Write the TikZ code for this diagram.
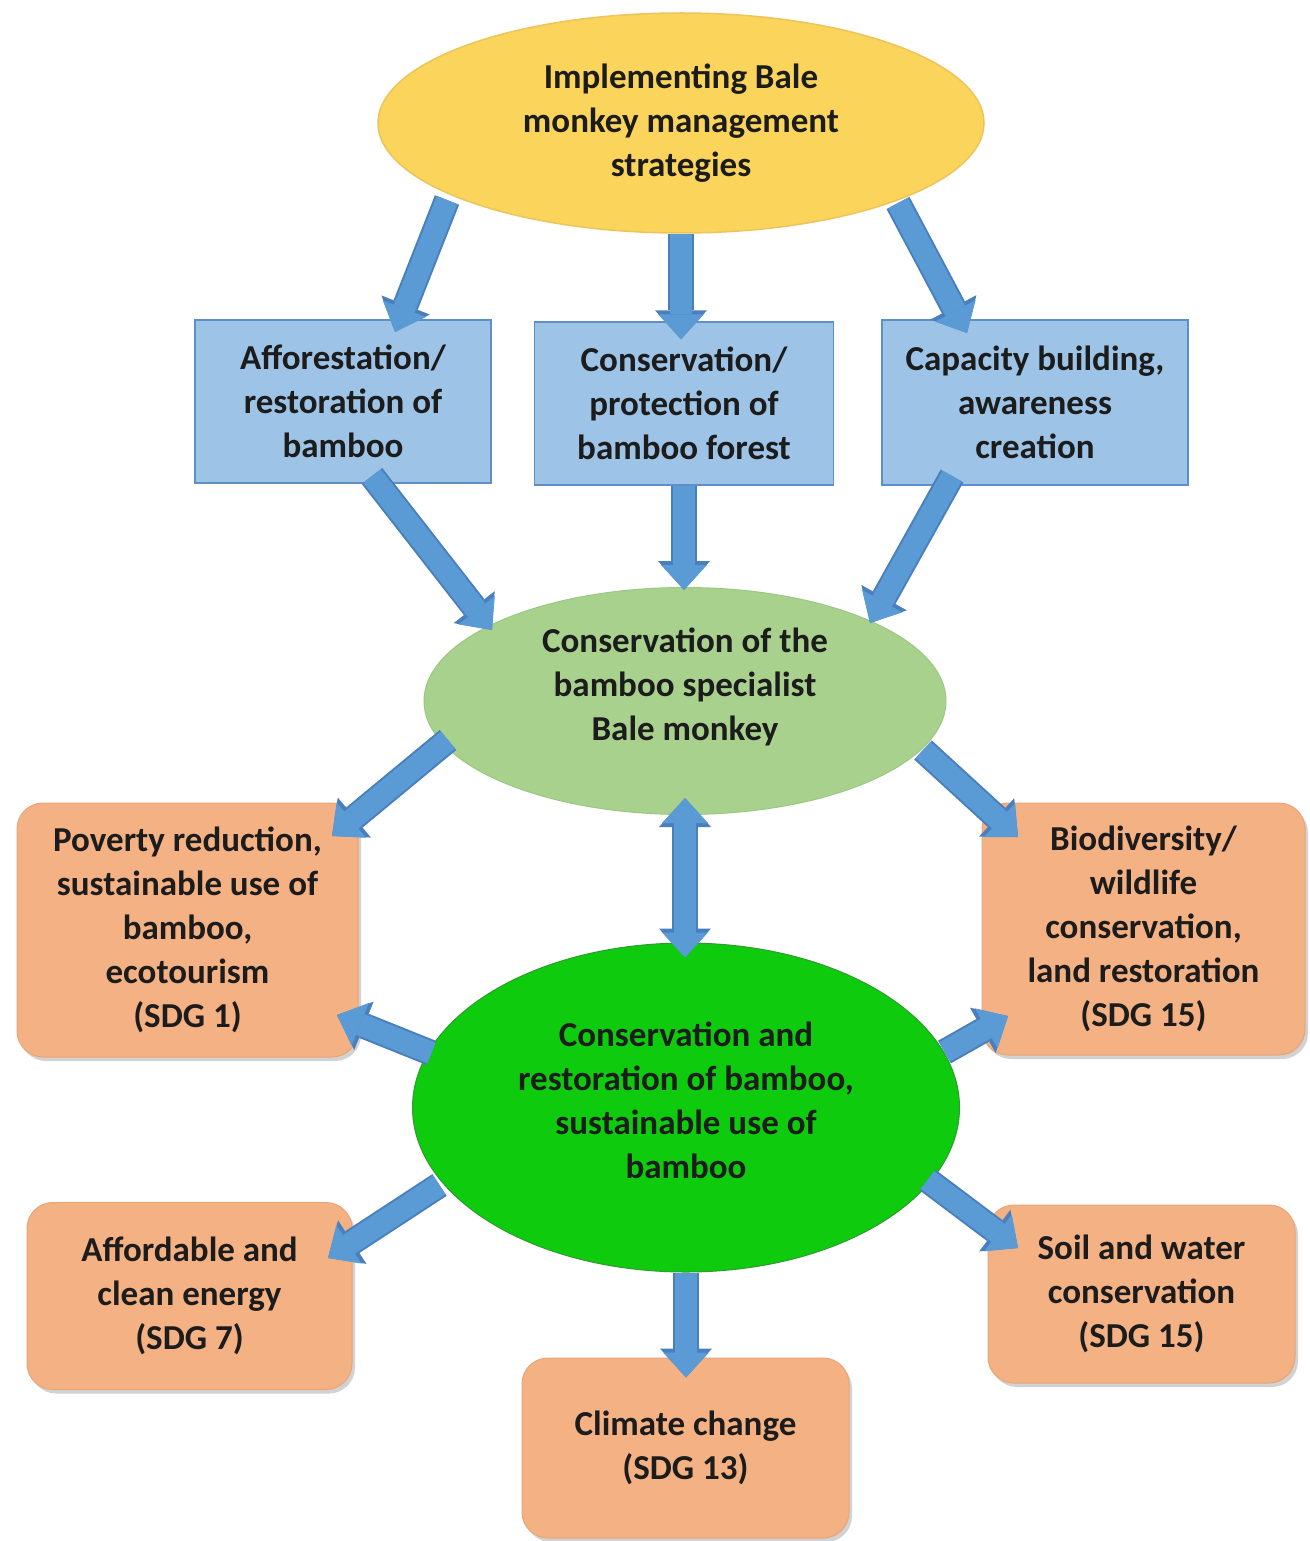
\documentclass[tikz,border=0pt]{standalone}
\usepackage{fontspec}
\setmainfont{Carlito}
\usetikzlibrary{arrows.meta,shapes.geometric,shadows,calc}
\definecolor{yelfill}{HTML}{FBD45C}
\definecolor{yeldraw}{HTML}{EDC45A}
\definecolor{bluefill}{HTML}{9DC3E6}
\definecolor{bluedraw}{HTML}{5E8FC9}
\definecolor{lgfill}{HTML}{A9D18E}
\definecolor{lgdraw}{HTML}{9BC783}
\definecolor{bgfill}{HTML}{0ECB0E}
\definecolor{bgdraw}{HTML}{2F9A2F}
\definecolor{orfill}{HTML}{F4B183}
\definecolor{ordraw}{HTML}{E8A577}
\definecolor{arrowc}{HTML}{5B9BD5}
\definecolor{arrowdk}{HTML}{4A7FBE}
\definecolor{textc}{HTML}{1C1C1C}
\newcommand\dfont{\fontsize{35pt}{44pt}\selectfont\bfseries}
\begin{document}
\begin{tikzpicture}[x=1pt,y=-1pt,
  txt/.style={font=\dfont, text=textc, align=center, inner sep=0pt},
  yelnode/.style={ellipse, fill=yelfill, draw=yeldraw, line width=1.5pt,
    minimum width=606pt, minimum height=220pt, txt},
  bluebox/.style={rectangle, fill=bluefill, draw=bluedraw, line width=1.5pt, txt},
  lgnode/.style={ellipse, fill=lgfill, draw=lgdraw, line width=1pt,
    minimum width=522pt, minimum height=227pt, inner sep=0pt},
  bgnode/.style={ellipse, fill=bgfill, draw=bgdraw, line width=1pt,
    minimum width=547pt, minimum height=329pt, inner sep=0pt},
  orbox/.style={rectangle, rounded corners=26pt, fill=orfill, draw=ordraw, line width=1pt,
    drop shadow={shadow xshift=3pt, shadow yshift=-4pt, opacity=0.35}, txt},
  barrow/.style={draw=arrowc, line width=22pt,
    -{Triangle[width=46pt,length=25pt,line width=0pt]},
    preaction={draw=arrowdk, line width=26pt, -{Triangle[width=52pt,length=29pt,line width=0pt]}}},
  dbarrow/.style={draw=arrowc, line width=22pt,
    {Triangle[width=46pt,length=25pt,line width=0pt]}-{Triangle[width=46pt,length=25pt,line width=0pt]},
    preaction={draw=arrowdk, line width=26pt,
      {Triangle[width=52pt,length=29pt,line width=0pt]}-{Triangle[width=52pt,length=29pt,line width=0pt]}}}
]
\useasboundingbox[fill=white] (0,0) rectangle (1309,1541);

% nodes
\node[yelnode] (yel) at (681,123) {Implementing Bale\\monkey management\\strategies};

\node[bluebox, minimum width=296pt, minimum height=163pt] (b1) at (343,401.5)
  {Afforestation/\\restoration of\\bamboo};
\node[bluebox, minimum width=299pt, minimum height=163pt] (b2) at (684,403.5)
  {Conservation/\\protection of\\bamboo forest};
\node[bluebox, minimum width=306pt, minimum height=165pt] (b3) at (1035,402.5)
  {Capacity building,\\awareness\\creation};

\node[lgnode, label={[txt, yshift=14pt]center:{Conservation of the\\bamboo specialist\\Bale monkey}}]
  (lg) at (685,701) {};

\node[bgnode, label={[txt, yshift=7pt]center:{Conservation and\\restoration of bamboo,\\sustainable use of\\bamboo}}]
  (bg) at (686,1107.5) {};

\node[orbox, minimum width=341pt, minimum height=254pt] (pov) at (187.5,930)
  {Poverty reduction,\\sustainable use of\\bamboo,\\ecotourism\\(SDG 1)};
\node[orbox, minimum width=323pt, minimum height=252pt] (bio) at (1143.5,929)
  {Biodiversity/\\wildlife\\conservation,\\land restoration\\(SDG 15)};
\node[orbox, minimum width=325pt, minimum height=187pt] (aff) at (189.5,1296)
  {Affordable and\\clean energy\\(SDG 7)};
\node[orbox, minimum width=307pt, minimum height=178pt] (soil) at (1141.5,1294)
  {Soil and water\\conservation\\(SDG 15)};
\node[orbox, minimum width=327pt, minimum height=180pt] (clim) at (685.5,1448)
  {Climate change\\(SDG 13)};

% connectors
\draw[barrow] ($(yel.center)+(-234,77)$) -- ($(b1.center)+(52,-69.5)$);
\draw[barrow] (yel.south) -- ($(yel.south |- b2.north)+(0,18)$);
\draw[barrow] ($(yel.center)+(217,80)$) -- ($(b3.center)+(-68,-69.5)$);

\draw[barrow] ($(b1.center)+(29,74.5)$) -- ($(lg.center)+(-193,-71)$);
\draw[barrow] (b2.south) -- ($(b2.south |- lg.north)+(0,3)$);
\draw[barrow] ($(b3.center)+(-83,73.5)$) -- ($(lg.center)+(185,-78)$);

\draw[barrow] ($(lg.center)+(-237,39)$) -- ($(pov.center)+(144.5,-94)$);
\draw[barrow] ($(lg.center)+(238,49)$) -- ($(bio.center)+(-125.5,-92)$);

\draw[dbarrow] ($(lg.south)+(0,-17)$) -- ($(lg.south |- bg.north)+(0,15)$);

\draw[barrow] ($(bg.center)+(-254.5,-54.5)$) -- ($(pov.center)+(149.5,85)$);
\draw[barrow] ($(bg.center)+(258.5,-55.5)$) -- ($(bio.center)+(-135.5,87)$);
\draw[barrow] ($(bg.center)+(-246.5,77.5)$) -- ($(aff.center)+(138.5,-38)$);
\draw[barrow] ($(bg.center)+(241.5,72.5)$) -- ($(soil.center)+(-123.5,-46)$);
\draw[barrow] (bg.south) -- ($(bg.south |- clim.north)+(0,20)$);
\end{tikzpicture}
\end{document}
